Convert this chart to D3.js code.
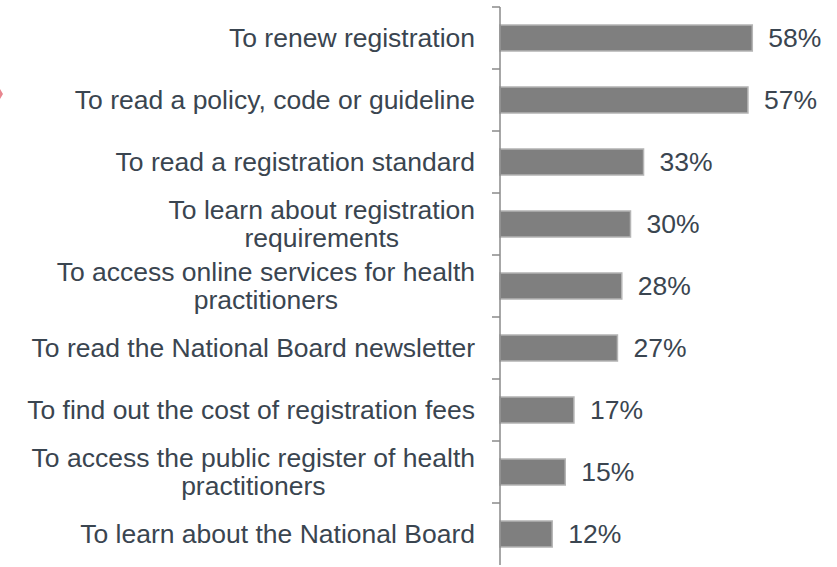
<!DOCTYPE html>
<html><head><meta charset="utf-8">
<script src="https://cdn.jsdelivr.net/npm/d3@7"></script>
<style>html,body{margin:0;padding:0;background:#fff;}svg{display:block;}</style>
</head><body>
<svg id="chart" width="837" height="567"></svg>
<script>
const categories = [
  ["To renew registration"],
  ["To read a policy, code or guideline"],
  ["To read a registration standard"],
  ["To learn about registration", "requirements"],
  ["To access online services for health", "practitioners"],
  ["To read the National Board newsletter"],
  ["To find out the cost of registration fees"],
  ["To access the public register of health", "practitioners"],
  ["To learn about the National Board"]
];
const values = [58, 57, 33, 30, 28, 27, 17, 15, 12];
const valueLabels = ["58%", "57%", "33%", "30%", "28%", "27%", "17%", "15%", "12%"];

(function () {
const svg = d3.select("#chart");
const axisX = 500;
const axisTop = 7;
const y = d3.scaleBand().domain(d3.range(categories.length)).range([axisTop, 565]).paddingInner(0.58).paddingOuter(0.29);
const x = d3.scaleLinear().domain([0, 100]).range([axisX, axisX + 435]);
const textColor = "#3a4550";
const font = "'Liberation Sans', Arial, sans-serif";

// small artifact at left edge
svg.append("path").attr("d", "M0,89 L3,94 L0,99 Z").attr("fill", "#e8868f");

// bars
svg.selectAll("rect.bar").data(values).enter().append("rect")
  .attr("class", "bar")
  .attr("x", x(0))
  .attr("y", (d, i) => y(i))
  .attr("width", d => x(d) - x(0))
  .attr("height", y.bandwidth())
  .attr("fill", "#7f7f7f")
  .attr("stroke", "#b5b5b5")
  .attr("stroke-width", 1.5);

// axis line and ticks
const step = y.step();
svg.append("line").attr("x1", axisX).attr("x2", axisX).attr("y1", axisTop).attr("y2", 565)
  .attr("stroke", "#8a8a8a").attr("stroke-width", 1.5);
d3.range(categories.length).forEach(k => {
  const ty = axisTop + k * step;
  svg.append("line").attr("x1", axisX - 8).attr("x2", axisX).attr("y1", ty).attr("y2", ty)
    .attr("stroke", "#8a8a8a").attr("stroke-width", 1.5);
});

// category labels
const fs = 26.5;
categories.forEach((lines, i) => {
  const cy = y(i) + y.bandwidth() / 2;
  const g = svg.append("g");
  const texts = lines.map((ln, j) => g.append("text")
    .attr("y", cy + fs * 0.358 + (j - (lines.length - 1) / 2) * 28)
    .attr("font-family", font).attr("font-size", fs).attr("fill", textColor)
    .text(ln));
  const widths = texts.map(t => t.node().getComputedTextLength());
  const maxW = d3.max(widths);
  const right = 475;
  texts.forEach(t => t.attr("x", right - maxW / 2).attr("text-anchor", "middle"));
});

// value labels
svg.selectAll("text.val").data(values).enter().append("text")
  .attr("class", "val")
  .attr("x", d => x(d) + 16)
  .attr("y", (d, i) => y(i) + y.bandwidth() / 2 + fs * 0.358)
  .attr("font-family", font).attr("font-size", fs).attr("fill", textColor)
  .text((d, i) => valueLabels[i]);
})();
</script>
</body></html>
